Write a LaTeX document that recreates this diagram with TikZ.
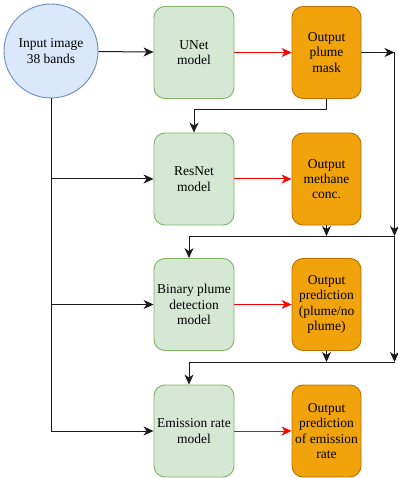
\documentclass[tikz,border=0pt]{standalone}
\usepackage{fontspec}
\setmainfont{Liberation Serif}
\usetikzlibrary{arrows.meta}
\definecolor{gfill}{HTML}{D5E8D4}
\definecolor{gline}{HTML}{82B366}
\definecolor{ofill}{HTML}{F0A30A}
\definecolor{oline}{HTML}{BD7000}
\definecolor{bfill}{HTML}{DAE8FC}
\definecolor{bline}{HTML}{6C8EBF}
\definecolor{lgray}{HTML}{1A1A1A}
\tikzset{
  model/.style={draw=gline, fill=gfill, rounded corners=11pt, minimum width=80pt, minimum height=92pt, align=center, inner sep=1pt, line width=0.9pt},
  outbox/.style={draw=oline, fill=ofill, rounded corners=11pt, minimum width=69pt, minimum height=92pt, align=center, inner sep=1pt, line width=0.9pt},
  inbox/.style={draw=bline, fill=bfill, circle, minimum size=94pt, align=center, inner sep=0pt, line width=0.9pt},
  arr/.style={draw=lgray, line width=1pt, -{Stealth[length=10pt,width=9pt,inset=3pt]}},
  redarr/.style={draw=red, line width=1pt, -{Stealth[length=10pt,width=9pt,inset=3pt]}}
}
\begin{document}
\begin{tikzpicture}[x=1pt,y=-1pt,font=\rmfamily\fontsize{13.5}{15.3}\selectfont]
\useasboundingbox (0,0) rectangle (397,478);
\node[inbox] (in) at (51,51) {Input image\\38 bands};
\node[model] (unet) at (194,52.5) {UNet\\model};
\node[outbox] (mask) at (326.5,52.5) {Output\\plume\\mask};
\node[model] (res) at (194,179) {ResNet\\model};
\node[outbox] (meth) at (326.5,179) {Output\\methane\\conc.};
\node[model] (bin) at (194,304.5) {Binary plume\\detection\\model};
\node[outbox] (pred) at (326.5,304.5) {Output\\prediction\\(plume/no\\plume)};
\node[model] (emi) at (194,431) {Emission rate\\model};
\node[outbox] (oemi) at (326.5,431) {Output\\prediction\\of emission\\rate};
\coordinate (r1) at (394.5,52.5);
\coordinate (r2) at (394.5,236);
\coordinate (r3) at (394.5,362);
% main flow
\draw[arr] (in) -- (unet);
\draw[redarr] (unet) -- (mask);
\draw[redarr] (res) -- (meth);
\draw[redarr] (bin) -- (pred);
\draw[redarr] (emi) -- (oemi);
% right side
\draw[arr] (mask.east) -- (r1);
\draw[arr] (r1) -- (r2);
\draw[arr] (r2) -- (r3);
\draw[arr] (mask.south) -- ++(0,11) -| (res.north);
\draw[arr] (meth.south) -- (meth.south |- r2);
\draw[arr] (pred.south) -- (pred.south |- r3);
\draw[arr] (r2) -| ([xshift=-5pt]bin.north);
\draw[arr] (r3) -| ([xshift=-5pt]emi.north);
% left side
\draw[arr] (in.south) |- (emi.west);
\draw[arr] (in.south |- res.west) -- (res.west);
\draw[arr] (in.south |- bin.west) -- (bin.west);
\end{tikzpicture}
\end{document}
